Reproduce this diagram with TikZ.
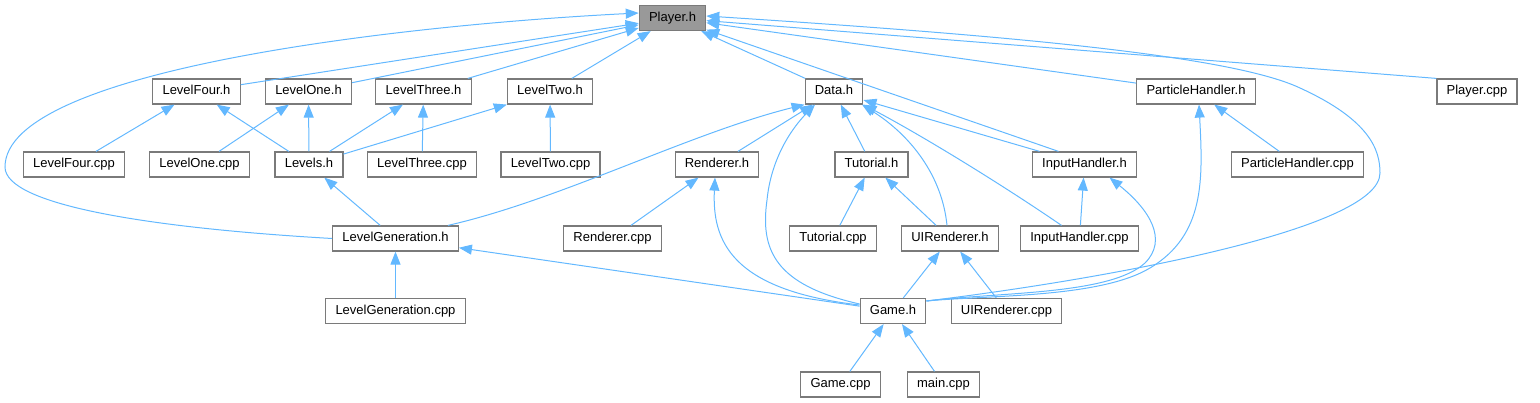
\documentclass[tikz,border=0pt]{standalone}
\usepackage{fontspec}
\setmainfont{Liberation Sans}
\usetikzlibrary{arrows.meta}
\definecolor{edgeblue}{HTML}{63B8FF}
\definecolor{boxline}{HTML}{7A7A7A}
\definecolor{rootfill}{HTML}{999999}
\begin{document}
\begin{tikzpicture}[x=1pt,y=-1pt,
  box/.style={draw=boxline,fill=white,line width=1.2pt,inner xsep=9.7pt,minimum height=25pt,
    text height=9.5pt,text depth=2.7pt,font=\fontsize{13}{15}\selectfont},
  root/.style={box,fill=rootfill},
  dep/.style={edgeblue,line width=1pt,{Triangle[length=13pt,width=10pt]}-}]
\useasboundingbox (0,0) rectangle (1540,403);
\node[root] (player) at (672.5,18) {Player.h};
\node[box] (lfourh) at (196.5,91.5) {LevelFour.h};
\node[box] (loneh) at (308.5,91.5) {LevelOne.h};
\node[box] (lthreeh) at (423.5,91.5) {LevelThree.h};
\node[box] (ltwoh) at (550,91.5) {LevelTwo.h};
\node[box] (datah) at (834,91.5) {Data.h};
\node[box] (parth) at (1196,91.5) {ParticleHandler.h};
\node[box] (playercpp) at (1477,91.5) {Player.cpp};
\node[box] (lfourcpp) at (74,164.5) {LevelFour.cpp};
\node[box] (lonecpp) at (199.5,164.5) {LevelOne.cpp};
\node[box] (levelsh) at (309,164.5) {Levels.h};
\node[box] (lthreecpp) at (422,164.5) {LevelThree.cpp};
\node[box] (ltwocpp) at (550.5,164.5) {LevelTwo.cpp};
\node[box] (rendh) at (717,164.5) {Renderer.h};
\node[box] (tuth) at (871.5,164.5) {Tutorial.h};
\node[box] (inputh) at (1084.5,164.5) {InputHandler.h};
\node[box] (partcpp) at (1297.5,164.5) {ParticleHandler.cpp};
\node[box] (lgenh) at (395.5,238.5) {LevelGeneration.h};
\node[box] (rendcpp) at (612.5,238.5) {Renderer.cpp};
\node[box] (tutcpp) at (833,238.5) {Tutorial.cpp};
\node[box] (uirh) at (950,238.5) {UIRenderer.h};
\node[box] (inputcpp) at (1079.5,238.5) {InputHandler.cpp};
\node[box] (lgencpp) at (395.5,311) {LevelGeneration.cpp};
\node[box] (gameh) at (893,311) {Game.h};
\node[box] (uircpp) at (1006.5,311) {UIRenderer.cpp};
\node[box] (gamecpp) at (840.5,384.5) {Game.cpp};
\node[box] (maincpp) at (943.5,384.5) {main.cpp};
\foreach \a/\b in {player/lfourh,player/loneh,player/lthreeh,player/ltwoh,player/datah,player/parth,
  lfourh/lfourcpp,lfourh/levelsh,loneh/lonecpp,loneh/levelsh,lthreeh/levelsh,lthreeh/lthreecpp,
  ltwoh/levelsh,ltwoh/ltwocpp,datah/rendh,datah/tuth,datah/inputh,levelsh/lgenh,
  parth/partcpp,rendh/rendcpp,tuth/tutcpp,tuth/uirh,inputh/inputcpp,lgenh/lgencpp,
  lgenh/gameh,uirh/gameh,uirh/uircpp,gameh/gamecpp,gameh/maincpp}
  \draw[dep] (\a) -- (\b);
\draw[dep] (player) -- (playercpp.north west);
\draw[dep] (player) -- ([xshift=-26pt]inputh.north);
\draw[dep] ([yshift=5pt]player.west) .. controls (400,25) and (5,70) .. (5,167)
  .. controls (5,205) and (150,228) .. (lgenh.west);
\draw[dep] ([yshift=2pt]player.east) .. controls (1000,35) and (1230,55) .. (1300,88)
  .. controls (1370,120) and (1380,150) .. (1380,173)
  .. controls (1380,230) and (1100,280) .. ([yshift=10pt]gameh.east);
\draw[dep] ([xshift=3pt]parth.south) .. controls (1203,180) and (1205,235) .. (1150,268)
  .. controls (1100,298) and (990,295) .. ([yshift=10pt]gameh.east);
\draw[dep] ([xshift=25pt]inputh.south) .. controls (1150,210) and (1168,240) .. (1145,263)
  .. controls (1110,295) and (1000,292) .. ([yshift=10pt]gameh.east);
\draw[dep] ([xshift=28pt]datah.south) .. controls (910,135) and (942,175) .. ([xshift=-3pt]uirh.north);
\draw[dep] (datah.south east) .. controls (930,140) and (1010,190) .. ([xshift=-18pt]inputcpp.north);
\draw[dep] (datah.south west) .. controls (690,133) and (560,200) .. ([xshift=-11pt]lgenh.north east);
\draw[dep] ([xshift=-19pt]datah.south) .. controls (800,120) and (772,150) .. (767,200)
  .. controls (760,250) and (775,285) .. ([yshift=7pt]gameh.west);
\draw[dep] ([xshift=-2pt]rendh.south) .. controls (712,240) and (730,290) .. ([yshift=6pt]gameh.west);
\end{tikzpicture}
\end{document}
